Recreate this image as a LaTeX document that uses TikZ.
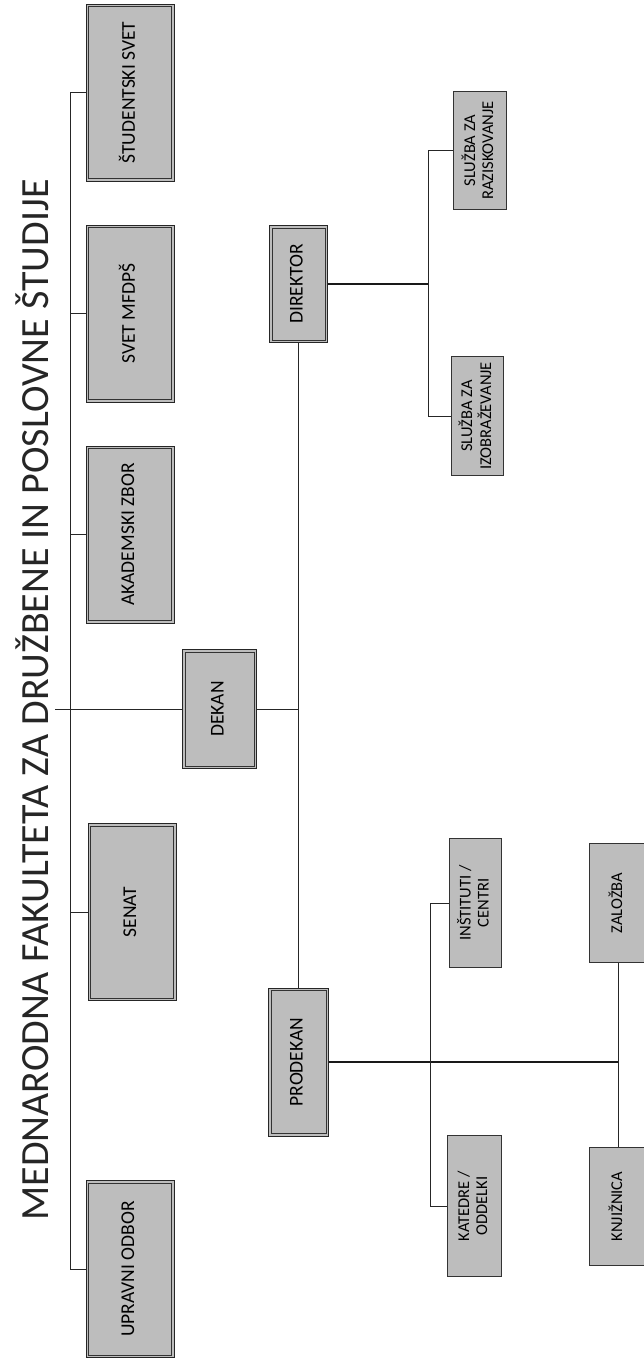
\documentclass[tikz,border=0pt]{standalone}
\usepackage{fontspec}
\setmainfont{Carlito}
\usepackage{graphicx}
\usetikzlibrary{positioning}

% vertical (rotated) box label
\newcommand{\vtxt}[1]{\rotatebox{90}{\begin{tabular}{@{}c@{}}#1\end{tabular}}}

\begin{document}
\begin{tikzpicture}[
    x=1pt, y=-1pt,
    bigbox/.style={draw=black!85, line width=0.9pt, fill=black!26, inner sep=0pt, minimum width=88pt, minimum height=177pt, font=\fontsize{19.5}{21}\selectfont},
    innerline/.style={draw=black!80, line width=0.8pt},
    smallbox/.style={draw=black!80, line width=0.9pt, fill=black!26, inner sep=0pt, font=\fontsize{16.5}{18}\selectfont},
    conn/.style={draw=black!85, line width=0.7pt},
    mainconn/.style={draw=black!90, line width=1.2pt}
]

% fixed page size
\useasboundingbox (0,0) rectangle (643,1366);

% Title
\node[inner sep=0pt, font=\fontsize{40}{40}\selectfont, text=black!85] (title) at (32.5,700) {\rotatebox{90}{MEDNARODNA FAKULTETA ZA DRUŽBENE IN POSLOVNE ŠTUDIJE}};

% First level boxes
\node[bigbox] (SS_box) at (130,92.5) {\vtxt{ŠTUDENTSKI SVET}};
\node[bigbox] (SV_box) at (130,313.5) {\vtxt{SVET MFDPŠ}};
\node[bigbox] (AZ_box) at (130,534.5) {\vtxt{AKADEMSKI ZBOR}};
\node[bigbox] (SE_box) at (132,912) {\vtxt{SENAT}};
\node[bigbox] (UO_box) at (130,1269) {\vtxt{UPRAVNI ODBOR}};

% Management
\node[bigbox, minimum width=74pt, minimum height=119pt] (DE_box) at (219.5,709) {\vtxt{DEKAN}};
\node[bigbox, minimum width=58pt, minimum height=117pt] (DI_box) at (298.5,284) {\vtxt{DIREKTOR}};
\node[bigbox, minimum width=60pt, minimum height=148pt] (PD_box) at (298.5,1062) {\vtxt{PRODEKAN}};

% double border of the large boxes
\foreach \b in {SS_box, SV_box, AZ_box, SE_box, UO_box, DE_box, DI_box, PD_box}
    \draw[innerline] ([shift={(3,3)}]\b.north west) rectangle ([shift={(-3,-3)}]\b.south east);

% Services and units
\node[smallbox, minimum width=53pt, minimum height=118pt] (SR_box) at (480,150.5) {\vtxt{SLUŽBA ZA\\RAZISKOVANJE}};
\node[smallbox, minimum width=52pt, minimum height=119pt] (SI_box) at (477.5,416) {\vtxt{SLUŽBA ZA\\IZOBRAŽEVANJE}};
\node[smallbox, minimum width=52pt, minimum height=129pt] (IN_box) at (475.5,903) {\vtxt{INŠTITUTI /\\CENTRI}};
\node[smallbox, minimum width=54pt, minimum height=141pt] (KA_box) at (474.5,1206) {\vtxt{KATEDRE /\\ODDELKI}};
\node[smallbox, minimum width=57pt, minimum height=119pt] (ZA_box) at (618,903) {\vtxt{ZALOŽBA}};
\node[smallbox, minimum width=57pt, minimum height=118pt] (KN_box) at (618,1206.5) {\vtxt{KNJIŽNICA}};

% Bus lines
\coordinate (spine) at (70,0);
\coordinate (dek_in) at (55,709);
\coordinate (dir_bus) at (428,0);
\coordinate (pro_bus) at (430,0);

% First level connectors
\draw[conn] (UO_box.west) -- (UO_box.west -| spine) -- (SS_box.west -| spine) -- (SS_box.west);
\foreach \b in {SV_box, AZ_box, SE_box}
    \draw[conn] (\b.west) -- (\b.west -| spine);
\draw[conn] (dek_in) -- (DE_box.west);

% Dean trunk
\draw[conn] (DI_box.south) -- (PD_box.north);
\draw[conn] (DE_box.east) -- (DE_box.east -| DI_box.south);

% Director branch
\draw[mainconn] (DI_box.east) -- (DI_box.east -| dir_bus);
\draw[conn] (SR_box.west) -- (SR_box.west -| dir_bus) -- (SI_box.west -| dir_bus) -- (SI_box.west);

% Vice-dean branch
\draw[mainconn] (PD_box.east) -- (PD_box.east -| ZA_box.south);
\draw[conn] (IN_box.west) -- (IN_box.west -| pro_bus) -- (KA_box.west -| pro_bus) -- (KA_box.west);
\draw[conn] (ZA_box.south) -- (KN_box.north);

\end{tikzpicture}
\end{document}
